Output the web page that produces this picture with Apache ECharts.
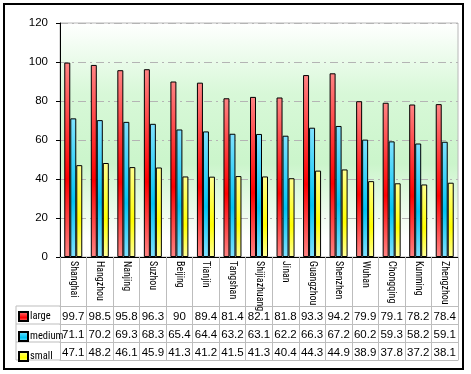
<!DOCTYPE html>
<html><head><meta charset="utf-8">
<script src="https://cdn.jsdelivr.net/npm/echarts@6/dist/echarts.min.js"></script>
<style>html,body{margin:0;padding:0;background:#fff;}#c{width:471px;height:374px;}</style>
</head><body><div id="c"></div>
<script>
const categories = ['Shanghai','Hangzhou','Nanjing','Suzhou','Beijing','Tianjin','Tangshan','Shijiazhuang','Jinan','Guangzhou','Shenzhen','Wuhan','Chongqing','Kunming','Zhengzhou'];
const large  = [99.7,98.5,95.8,96.3,90,89.4,81.4,82.1,81.8,93.3,94.2,79.9,79.1,78.2,78.4];
const medium = [71.1,70.2,69.3,68.3,65.4,64.4,63.2,63.1,62.2,66.3,67.2,60.2,59.3,58.2,59.1];
const small  = [47.1,48.2,46.1,45.9,41.3,41.2,41.5,41.3,40.4,44.3,44.9,38.9,37.8,37.2,38.1];
const seriesNames = ['large','medium','small'];
const yTicks = {min:0, max:120, interval:20};

const NARROW = '"Roboto Condensed","Open Sans Condensed","Liberation Sans",sans-serif';
const SANS = '"Liberation Sans",Arial,sans-serif';
const grad = (a,b,c) => ({type:'linear',x:0,y:0,x2:0,y2:1,colorStops:[{offset:0,color:a},{offset:0.6,color:b},{offset:1,color:c}]});
const colors = [grad('#ff8484','#ff0000','#ff8484'), grad('#80e2ff','#00c4f4','#80e2ff'), grad('#ffff90','#ffff00','#ffff98')];
const tableGray = '#bdbdbd';
const rows = [large, medium, small];

const chart = echarts.init(document.getElementById('c'));
const xAxes = [{
  type:'category', data:categories, gridIndex:0, position:'bottom',
  axisLine:{show:true, lineStyle:{color:'#000', width:1}},
  axisTick:{show:true, alignWithLabel:false, interval:0, length:103, lineStyle:{color:tableGray}},
  axisLabel:{interval:0, rotate:-90, margin:4, fontSize:10, fontFamily:NARROW, color:'#000'},
  splitLine:{show:false}
}];
[49,67,85,103].forEach((off,k)=>{
  xAxes.push({
    type:'category', data:categories, gridIndex:0, position:'bottom', offset:off,
    axisLine:{show:true, lineStyle:{color:tableGray}},
    axisTick:{show:false},
    axisLabel:{show:k<3, interval:0, margin:5, fontSize:11.5, fontFamily:SANS, color:'#000',
      formatter:(v,i)=> k<3 ? String(rows[k][i]) : ''},
    splitLine:{show:false}
  });
});

chart.setOption({
  animation:false,
  backgroundColor:'#fff',
  grid:{left:60, right:13, top:23, bottom:117, show:true, borderColor:'#b8b8b8', borderWidth:1,
    backgroundColor:{type:'linear',x:0,y:0,x2:0,y2:1,colorStops:[
      {offset:0,color:'#ffffff'},{offset:0.3,color:'#d8f8d8'},{offset:0.6,color:'#cbf5cb'},{offset:0.92,color:'#ffffff'},{offset:1,color:'#ffffff'}]}},
  legend:{data:seriesNames, orient:'vertical', left:18, top:311, itemWidth:9, itemHeight:9, itemGap:9, padding:0,
    icon:'rect', textStyle:{fontSize:10.5, lineHeight:9, fontFamily:NARROW, color:'#000', padding:[0,0,0,-3]}},
  xAxis:xAxes,
  yAxis:{type:'value', min:yTicks.min, max:yTicks.max, interval:yTicks.interval,
    axisLine:{show:true, lineStyle:{color:'#000'}},
    axisTick:{show:true, length:4, lineStyle:{color:'#000'}},
    axisLabel:{margin:12, fontSize:11.5, fontFamily:SANS, color:'#000'},
    splitLine:{show:true, lineStyle:{color:'#b4b4b4', type:[8,4,2,4]}}},
  series:[large,medium,small].map((d,i)=>({
    name:seriesNames[i], type:'bar', data:d, xAxisIndex:0, barWidth:6, barGap:'0%',
    itemStyle:{color:colors[i], borderColor:'#000', borderWidth:1}
  })),
  graphic:[
    {type:'rect', shape:{x:4,y:4,width:459,height:365}, style:{fill:'none', stroke:'#000', lineWidth:2}, silent:true},
    {type:'polyline', shape:{points:[[60,306],[16,306],[16,360],[60,360]]}, style:{fill:'none', stroke:tableGray, lineWidth:1}, silent:true},
    {type:'line', shape:{x1:16,y1:324,x2:60,y2:324}, style:{stroke:tableGray, lineWidth:1}, silent:true},
    {type:'line', shape:{x1:16,y1:342,x2:60,y2:342}, style:{stroke:tableGray, lineWidth:1}, silent:true}
  ]
});
</script></body></html>
